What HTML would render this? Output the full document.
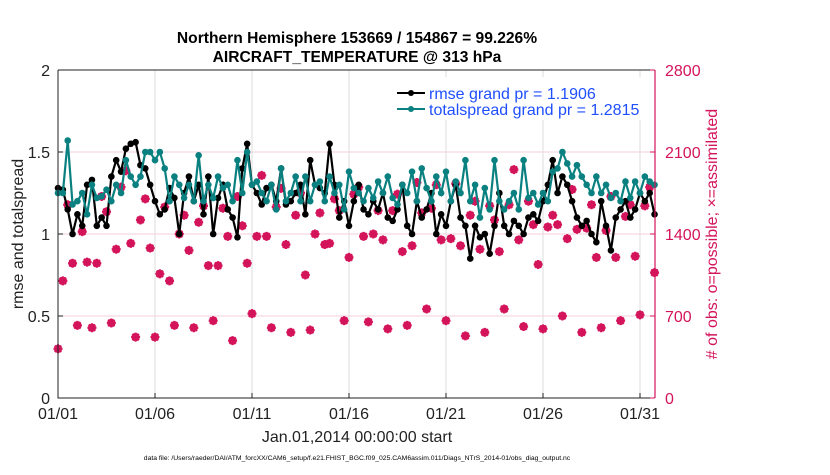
<!DOCTYPE html>
<html><head><meta charset="utf-8"><style>
body{margin:0;background:#fff;width:830px;height:470px;overflow:hidden;font-family:"Liberation Sans",sans-serif}
</style></head><body>
<svg id="c" width="830" height="470" xmlns="http://www.w3.org/2000/svg"></svg>
<script>
const dayLabels=["01/01","01/06","01/11","01/16","01/21","01/26","01/31"];
const dayTicks=[0,5,10,15,20,25,30];
const leftTicks=[0,0.5,1,1.5,2];
const rightTicks=[0,700,1400,2100,2800];
const rmse=[1.28,1.27,1.15,1.0,1.12,1.05,1.3,1.33,1.05,1.1,1.05,1.35,1.45,1.38,1.52,1.55,1.56,1.42,1.4,1.3,1.2,1.12,1.15,1.28,1.22,1.0,1.25,1.35,1.2,1.3,1.12,1.35,1.0,1.22,1.3,1.15,1.1,0.98,1.4,1.55,1.3,1.25,1.18,1.28,1.3,1.2,1.4,1.18,1.2,1.25,1.3,1.12,1.45,1.3,1.28,1.25,1.55,1.3,1.1,1.2,1.05,1.2,1.3,1.15,1.12,1.2,1.15,1.25,1.1,1.08,1.15,1.3,1.05,1.0,1.2,1.1,1.15,1.25,1.0,1.12,1.05,1.2,1.3,1.1,1.05,0.85,1.05,0.98,1.0,0.88,1.05,1.25,1.05,1.0,1.08,1.05,1.0,1.1,1.12,1.08,1.2,1.3,1.45,1.25,1.35,1.3,1.2,1.1,1.05,1.08,1.0,0.95,1.2,1.05,0.9,1.1,1.15,1.2,1.1,1.15,1.25,1.2,1.25,1.12];
const spread=[1.25,1.25,1.57,1.18,1.2,1.25,1.12,1.3,1.22,1.23,1.27,1.2,1.3,1.25,1.45,1.35,1.3,1.35,1.5,1.5,1.45,1.5,1.4,1.2,1.35,1.3,1.22,1.3,1.2,1.48,1.2,1.3,1.22,1.35,1.28,1.3,1.2,1.45,1.25,1.5,1.3,1.32,1.25,1.2,1.3,1.15,1.4,1.2,1.25,1.35,1.2,1.35,1.2,1.3,1.32,1.2,1.35,1.25,1.3,1.15,1.38,1.28,1.25,1.2,1.28,1.22,1.32,1.25,1.35,1.22,1.18,1.3,1.25,1.38,1.2,1.4,1.28,1.2,1.35,1.25,1.38,1.2,1.32,1.25,1.45,1.2,1.3,1.1,1.28,1.15,1.45,1.2,1.15,1.2,1.25,1.15,1.45,1.22,1.25,1.18,1.25,1.2,1.38,1.4,1.5,1.43,1.35,1.42,1.35,1.3,1.25,1.35,1.25,1.3,1.22,1.25,1.2,1.32,1.22,1.32,1.25,1.35,1.32,1.3];
const obs=[420,1000,1650,1150,620,1420,1160,600,1150,1720,1590,640,1270,1800,1940,1320,520,1520,1700,1280,520,1060,1630,1000,620,1400,1560,1260,600,1500,1640,1130,660,1130,1620,1380,490,1720,1470,1150,720,1380,1900,1380,600,1630,1790,1310,560,1560,1750,1050,580,1400,1580,1310,1320,1700,1600,660,1200,1740,1800,1380,650,1400,1600,1350,590,1600,1740,1250,620,1300,1840,1580,760,1620,1820,1350,660,1360,1830,1300,530,1560,1680,1270,560,1640,1520,1250,760,1650,1950,1350,610,1680,1480,1140,590,1460,1560,1480,700,1360,1780,1440,560,1450,1650,1200,600,1430,1720,1200,660,1550,1650,1210,710,1640,1800,1070];
const NS="http://www.w3.org/2000/svg";
const svg=document.getElementById('c');
const X0=58,X1=655,Y0=398,Y1=70;
const xs=i=>X0+(i/4)*19.4;
const xd=d=>X0+d*19.4;
const yl=v=>Y0-(v/2)*(Y0-Y1);
const yr=v=>Y0-(v/2800)*(Y0-Y1);
const RED="#d4145a",TEAL="#0a8080";
function mk(t,a,p){const e=document.createElementNS(NS,t);for(const k in a)e.setAttribute(k,a[k]);(p||svg).appendChild(e);return e;}
function txt(s,a){const e=mk('text',a);e.textContent=s;return e;}
dayTicks.forEach(d=>{const l=mk('line',{x1:xd(d),x2:xd(d),y1:Y1,y2:Y0,stroke:'#dcdcdc','stroke-width':1});
});
rightTicks.slice(1,4).forEach(v=>{const l=mk('line',{x1:X0,x2:X1,y1:yr(v),y2:yr(v),stroke:'#f6cfdc','stroke-width':1});
});
const og=mk('g',{});
obs.forEach((v,i)=>{const x=xs(i),y=yr(v);
const c=mk('circle',{cx:x,cy:y,r:3.5,fill:'none',stroke:RED,'stroke-width':1.2},og);

const s=mk('path',{d:`M${x-4.5} ${y}H${x+4.5}M${x} ${y-4.5}V${y+4.5}M${x-3.2} ${y-3.2}L${x+3.2} ${y+3.2}M${x-3.2} ${y+3.2}L${x+3.2} ${y-3.2}`,stroke:RED,'stroke-width':2.2},og);
});
function series(arr,col,name){const g=mk('g',{});
mk('polyline',{points:arr.map((v,i)=>xs(i)+','+yl(v)).join(' '),fill:'none',stroke:col,'stroke-width':2.2},g);
arr.forEach((v,i)=>{const c=mk('circle',{cx:xs(i),cy:yl(v),r:3.3,fill:col},g);});}
series(rmse,'#000','rmse-series');
series(spread,TEAL,'totalspread-series');
const ax=mk('path',{d:`M${X0} ${Y1}V${Y0}H${X1}`,stroke:'#222','stroke-width':1,fill:'none'});
const ra=mk('line',{x1:X1,x2:X1,y1:Y1,y2:Y0,stroke:RED,'stroke-width':1.2});
mk('line',{x1:X0,x2:X1,y1:Y1,y2:Y1,stroke:'#222','stroke-width':1});
leftTicks.forEach(v=>{mk('line',{x1:X0,x2:X0+5,y1:yl(v),y2:yl(v),stroke:'#222'});
const t=txt(String(v),{x:X0-8,y:yl(v)+6,'text-anchor':'end','font-size':16,fill:'#222'});});
rightTicks.forEach(v=>{mk('line',{x1:X1-5,x2:X1,y1:yr(v),y2:yr(v),stroke:RED});
const t=txt(String(v),{x:X1+10,y:yr(v)+6,'font-size':16,fill:RED});});
dayTicks.forEach((d,k)=>{mk('line',{x1:xd(d),x2:xd(d),y1:Y0,y2:Y0-5,stroke:'#222'});
const t=txt(dayLabels[k],{x:xd(d),y:Y0+21,'text-anchor':'middle','font-size':16,fill:'#222'});});
const lg=mk('g',{});
mk('rect',{x:389,y:77,width:262,height:43,fill:'#fff'},lg);
mk('line',{x1:397,x2:425,y1:93,y2:93,stroke:'#000','stroke-width':2},lg);mk('circle',{cx:411,cy:93,r:3,fill:'#000'},lg);
mk('line',{x1:397,x2:425,y1:109,y2:109,stroke:TEAL,'stroke-width':2},lg);mk('circle',{cx:411,cy:109,r:3,fill:TEAL},lg);
let t=txt('rmse grand pr = 1.1906',{x:429,y:99,'font-size':16,fill:'#1f4fff'});lg.appendChild(t);
t=txt('totalspread grand pr = 1.2815',{x:429,y:115,'font-size':16,fill:'#1f4fff'});lg.appendChild(t);
t=txt('Northern Hemisphere 153669 / 154867 = 99.226%',{x:357,y:43,'text-anchor':'middle','font-size':15.6,'font-weight':'bold',fill:'#000'});
t=txt('AIRCRAFT_TEMPERATURE @ 313 hPa',{x:357,y:62,'text-anchor':'middle','font-size':15.6,'font-weight':'bold',fill:'#000'});
t=txt('rmse and totalspread',{x:0,y:0,'text-anchor':'middle','font-size':16,fill:'#222',transform:'translate(23 234) rotate(-90)'});
t=txt('# of obs: o=possible; \u00d7=assimilated',{x:0,y:0,'text-anchor':'middle','font-size':16,fill:RED,transform:'translate(717 234) rotate(-90)'});
t=txt('Jan.01,2014 00:00:00 start',{x:357,y:442,'text-anchor':'middle','font-size':16,fill:'#222'});
t=txt('data file: /Users/raeder/DAI/ATM_forcXX/CAM6_setup/f.e21.FHIST_BGC.f09_025.CAM6assim.011/Diags_NTrS_2014-01/obs_diag_output.nc',{x:357,y:460,'text-anchor':'middle','font-size':6.8,fill:'#000'});
</script>
</body></html>
